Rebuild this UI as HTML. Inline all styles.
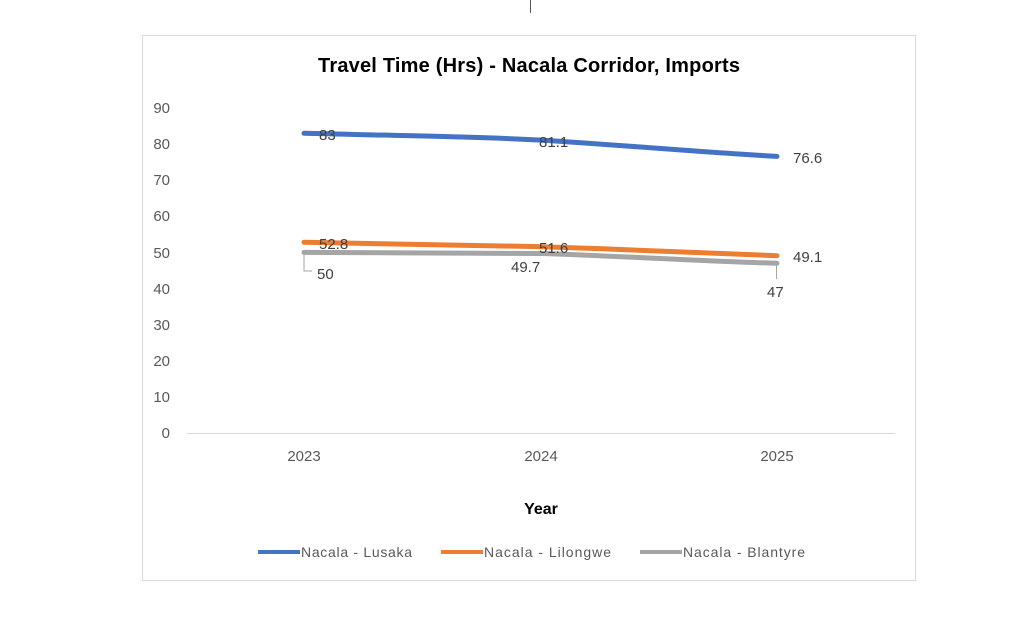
<!DOCTYPE html>
<html><head><style>body{margin:0;background:#fff}</style></head><body>
<svg width="1024" height="629" xmlns="http://www.w3.org/2000/svg" font-family="'Liberation Sans',Calibri,sans-serif">
<rect width="1024" height="629" fill="#fff"/>
<line x1="530.5" y1="0" x2="530.5" y2="13" stroke="#555" stroke-width="1"/>
<rect x="142.5" y="35.5" width="773" height="545" fill="#fff" stroke="#d9d9d9" stroke-width="1"/>
<text x="529" y="72" text-anchor="middle" font-size="20" font-weight="bold" fill="#000" textLength="422">Travel Time (Hrs) - Nacala Corridor, Imports</text>
<g font-size="15" fill="#595959" text-anchor="end">
<text x="170" y="438">0</text><text x="170" y="402">10</text><text x="170" y="366">20</text><text x="170" y="330">30</text><text x="170" y="294">40</text><text x="170" y="258">50</text><text x="170" y="221">60</text><text x="170" y="185">70</text><text x="170" y="149">80</text><text x="170" y="113">90</text>
</g>
<line x1="187" y1="433.5" x2="895" y2="433.5" stroke="#d9d9d9" stroke-width="1"/>
<g font-size="15" fill="#595959" text-anchor="middle">
<text x="304" y="461">2023</text><text x="541" y="461">2024</text><text x="777" y="461">2025</text>
</g>
<text x="541" y="514" text-anchor="middle" font-size="16" font-weight="bold" fill="#000">Year</text>
<g fill="none" stroke-width="5" stroke-linecap="round">
<path d="M304,133.3 C420,136 480,137 541,140.1 C620,145 700,152 777,156.4" stroke="#4472c4"/>
<path d="M304,242.3 C420,244 480,245 541,246.7 C620,249 700,253 777,255.7" stroke="#ed7d31"/>
<path d="M304,252.4 C420,253 480,253 541,253.5 C620,256 700,261 777,263.3" stroke="#a5a5a5"/>
</g>
<path d="M304,254 V271 H312" fill="none" stroke="#a6a6a6" stroke-width="1"/>
<path d="M776.5,265 V279" fill="none" stroke="#a6a6a6" stroke-width="1"/>
<g font-size="15" fill="#404040">
<text x="319" y="140">83</text><text x="539" y="147">81.1</text><text x="793" y="163">76.6</text>
<text x="319" y="249">52.8</text><text x="539" y="253">51.6</text><text x="793" y="262">49.1</text>
<text x="317" y="279">50</text><text x="511" y="272">49.7</text><text x="767" y="297">47</text>
</g>
<g font-size="14" fill="#595959">
<line x1="258" y1="552" x2="300" y2="552" stroke="#4472c4" stroke-width="4"/><text x="301" y="557" textLength="111">Nacala - Lusaka</text>
<line x1="441" y1="552" x2="483" y2="552" stroke="#ed7d31" stroke-width="4"/><text x="484" y="557" textLength="127">Nacala - Lilongwe</text>
<line x1="640" y1="552" x2="682" y2="552" stroke="#a5a5a5" stroke-width="4"/><text x="683" y="557" textLength="122">Nacala - Blantyre</text>
</g>
</svg>
</body></html>
